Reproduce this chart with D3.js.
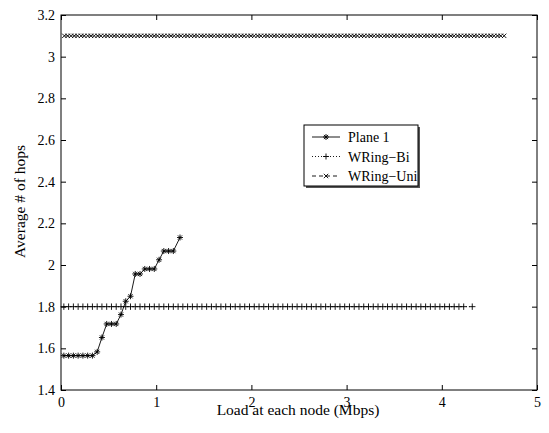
<!DOCTYPE html>
<html>
<head>
<meta charset="utf-8">
<script src="https://d3js.org/d3.v7.min.js"></script>
<style>
  body { margin: 0; background: #fff; }
  text { font-family: "Liberation Serif", "Times New Roman", serif; }
</style>
</head>
<body>
<svg id="chart" width="549" height="433"></svg>
<script>
// Plane 1: load (Mbps) vs average hops
var planeLoad = [0.03, 0.08, 0.13, 0.18, 0.23, 0.28, 0.33, 0.38, 0.43, 0.48, 0.53, 0.58,
                 0.63, 0.68, 0.73, 0.78, 0.83, 0.88, 0.93, 0.98, 1.03, 1.08, 1.13, 1.18, 1.25];
var planeHops = [1.565, 1.565, 1.565, 1.565, 1.565, 1.565, 1.565, 1.583, 1.652, 1.717, 1.717, 1.717,
                 1.762, 1.826, 1.85, 1.957, 1.957, 1.981, 1.981, 1.981, 2.025, 2.067, 2.067, 2.067, 2.132];

// WRing-Bi: constant 1.8 hops
var biLoad = [0.03, 0.08, 0.13, 0.18, 0.23, 0.28, 0.33, 0.38, 0.43, 0.48,
              0.53, 0.58, 0.63, 0.68, 0.73, 0.78, 0.83, 0.88, 0.93, 0.98,
              1.03, 1.08, 1.13, 1.18, 1.23, 1.28, 1.33, 1.38, 1.43, 1.48,
              1.53, 1.58, 1.63, 1.68, 1.73, 1.78, 1.83, 1.88, 1.93, 1.98,
              2.03, 2.08, 2.13, 2.18, 2.23, 2.28, 2.33, 2.38, 2.43, 2.48,
              2.53, 2.58, 2.63, 2.68, 2.73, 2.78, 2.83, 2.88, 2.93, 2.98,
              3.03, 3.08, 3.13, 3.18, 3.23, 3.28, 3.33, 3.38, 3.43, 3.48,
              3.53, 3.58, 3.63, 3.68, 3.73, 3.78, 3.83, 3.88, 3.93, 3.98,
              4.03, 4.08, 4.13, 4.18, 4.23, 4.32];
var biHops = 1.8;

// WRing-Uni: constant 3.1 hops
var uniLoad = [0.035, 0.07, 0.105, 0.14, 0.175, 0.21, 0.245, 0.28, 0.315, 0.35,
               0.385, 0.42, 0.455, 0.49, 0.525, 0.56, 0.595, 0.63, 0.665, 0.7,
               0.735, 0.77, 0.805, 0.84, 0.875, 0.91, 0.945, 0.98, 1.015, 1.05,
               1.085, 1.12, 1.155, 1.19, 1.225, 1.26, 1.295, 1.33, 1.365, 1.4,
               1.435, 1.47, 1.505, 1.54, 1.575, 1.61, 1.645, 1.68, 1.715, 1.75,
               1.785, 1.82, 1.855, 1.89, 1.925, 1.96, 1.995, 2.03, 2.065, 2.1,
               2.135, 2.17, 2.205, 2.24, 2.275, 2.31, 2.345, 2.38, 2.415, 2.45,
               2.485, 2.52, 2.555, 2.59, 2.625, 2.66, 2.695, 2.73, 2.765, 2.8,
               2.835, 2.87, 2.905, 2.94, 2.975, 3.01, 3.045, 3.08, 3.115, 3.15,
               3.185, 3.22, 3.255, 3.29, 3.325, 3.36, 3.395, 3.43, 3.465, 3.5,
               3.535, 3.57, 3.605, 3.64, 3.675, 3.71, 3.745, 3.78, 3.815, 3.85,
               3.885, 3.92, 3.955, 3.99, 4.025, 4.06, 4.095, 4.13, 4.165, 4.2,
               4.235, 4.27, 4.305, 4.34, 4.375, 4.41, 4.445, 4.48, 4.515, 4.55,
               4.585, 4.62, 4.655];
var uniHops = 3.1;

var xTicks = [0, 1, 2, 3, 4, 5];
var yTicks = [1.4, 1.6, 1.8, 2, 2.2, 2.4, 2.6, 2.8, 3, 3.2];
var legendNames = ["Plane 1", "WRing\u2212Bi", "WRing\u2212Uni"];

var svg = d3.select('#chart'),
    pLeft = 61, pRight = 537, pTop = 15, pBottom = 390;

var x = d3.scaleLinear().domain([0, 5]).range([pLeft, pRight]),
    y = d3.scaleLinear().domain([1.4, 3.2]).range([pBottom, pTop]);

//axes box with inward ticks on all sides (matlab style)
svg.append('g').attr('transform', 'translate(0,' + pBottom + ')')
   .call(d3.axisBottom(x).tickValues(xTicks).tickSizeInner(-5).tickSizeOuter(0).tickPadding(7).tickFormat(d3.format('d')));
svg.append('g').attr('transform', 'translate(0,' + pTop + ')')
   .call(d3.axisTop(x).tickValues(xTicks).tickSizeInner(-5).tickSizeOuter(0).tickFormat(''));
svg.append('g').attr('transform', 'translate(' + pLeft + ',0)')
   .call(d3.axisLeft(y).tickValues(yTicks).tickSizeInner(-5).tickSizeOuter(0).tickPadding(6).tickFormat(function(d){ return String(+d.toFixed(1)); }));
svg.append('g').attr('transform', 'translate(' + pRight + ',0)')
   .call(d3.axisRight(y).tickValues(yTicks).tickSizeInner(-5).tickSizeOuter(0).tickFormat(''));

svg.selectAll('.domain').remove();
svg.selectAll('.tick line').attr('stroke', '#000');
svg.selectAll('.tick text').attr('font-size', 14).attr('fill', '#000')
   .attr('font-family', '"Liberation Serif", serif');

svg.append('rect').attr('x', pLeft).attr('y', pTop)
   .attr('width', pRight - pLeft).attr('height', pBottom - pTop)
   .attr('fill', 'none').attr('stroke', '#000').attr('stroke-width', 1);

svg.append('text').attr('x', (pLeft + pRight) / 2 - 1).attr('y', 415)
   .attr('text-anchor', 'middle').attr('font-size', 15.5).text('Load at each node (Mbps)');
svg.append('text').attr('transform', 'translate(25,' + ((pTop + pBottom) / 2 - 1) + ') rotate(-90)')
   .attr('text-anchor', 'middle').attr('font-size', 15.5).text('Average # of hops');

// marker paths
function star(s) { return 'M' + (-s) + ',0H' + s + 'M0,' + (-s) + 'V' + s +
    'M' + (-s * 0.7) + ',' + (-s * 0.7) + 'L' + (s * 0.7) + ',' + (s * 0.7) +
    'M' + (-s * 0.7) + ',' + (s * 0.7) + 'L' + (s * 0.7) + ',' + (-s * 0.7); }
function plus(s) { return 'M' + (-s) + ',0H' + s + 'M0,' + (-s) + 'V' + s; }
function cross(s) { return 'M' + (-s) + ',' + (-s) + 'L' + s + ',' + s + 'M' + (-s) + ',' + s + 'L' + s + ',' + (-s); }

var line = d3.line().x(function(d){ return x(d[0]); }).y(function(d){ return y(d[1]); });

var uniData = uniLoad.map(function(l){ return [l, uniHops]; }),
    biData = biLoad.map(function(l){ return [l, biHops]; }),
    planeData = planeLoad.map(function(l, i){ return [l, planeHops[i]]; });

var series = [
  {data: uniData, marker: cross(2.2), dash: '5,3', width: 0.6},
  {data: biData, marker: plus(3.2), dash: '1,2', width: 0.8},
  {data: planeData, marker: star(3), dash: null, width: 0.9}
];

series.forEach(function(s) {
  svg.append('path').datum(s.data).attr('d', line)
     .attr('fill', 'none').attr('stroke', '#000').attr('stroke-width', s.width)
     .attr('stroke-dasharray', s.dash);
  svg.append('g').selectAll('path').data(s.data).enter().append('path')
     .attr('transform', function(d){ return 'translate(' + x(d[0]) + ',' + y(d[1]) + ')'; })
     .attr('d', s.marker).attr('stroke', '#000').attr('stroke-width', 0.9).attr('fill', 'none');
});

// legend
var lg = svg.append('g').attr('transform', 'translate(304,125)');
lg.append('rect').attr('x', 2).attr('y', 2).attr('width', 114).attr('height', 61).attr('fill', '#555');
lg.append('rect').attr('width', 114).attr('height', 61).attr('fill', '#fff').attr('stroke', '#000');
var legMarks = [star(3), plus(3), cross(2.2)],
    legDash = [null, '1,2', '4,3'];
legendNames.forEach(function(name, i) {
  var ly = 12 + i * 19.5;
  lg.append('line').attr('x1', 8).attr('x2', 36).attr('y1', ly).attr('y2', ly)
    .attr('stroke', '#000').attr('stroke-width', 0.9).attr('stroke-dasharray', legDash[i]);
  lg.append('path').attr('transform', 'translate(22,' + ly + ')').attr('d', legMarks[i])
    .attr('stroke', '#000').attr('stroke-width', 0.9).attr('fill', 'none');
  lg.append('text').attr('x', 44).attr('y', ly + 5).attr('font-size', 14).text(name);
});
</script>
</body>
</html>
